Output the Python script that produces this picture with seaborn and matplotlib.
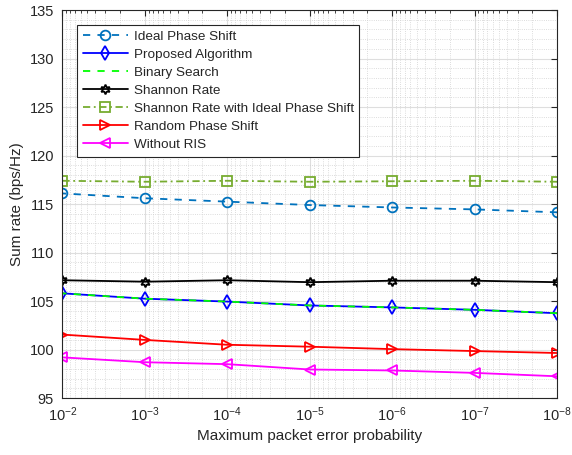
import numpy as np
import pandas as pd
import matplotlib
matplotlib.use('Agg')
import matplotlib.pyplot as plt
import seaborn as sns
from matplotlib.ticker import MultipleLocator, LogLocator, NullFormatter

sns.set_style('white')
plt.rcParams['font.family'] = ['Liberation Sans', 'DejaVu Sans']
plt.rcParams['mathtext.fontset'] = 'custom'
plt.rcParams['mathtext.rm'] = 'Liberation Sans'

# data
pe = [1e-2, 1e-3, 1e-4, 1e-5, 1e-6, 1e-7, 1e-8]
ideal_phase = [116.1, 115.6, 115.25, 114.9, 114.65, 114.45, 114.15]
proposed = [105.8, 105.25, 104.95, 104.55, 104.35, 104.1, 103.75]
binary_search = [105.8, 105.25, 104.95, 104.55, 104.35, 104.1, 103.75]
shannon = [107.15, 107.0, 107.15, 106.95, 107.1, 107.1, 106.95]
shannon_ideal = [117.4, 117.3, 117.4, 117.3, 117.35, 117.4, 117.3]
random_phase = [101.55, 101.0, 100.5, 100.3, 100.05, 99.85, 99.65]
without_ris = [99.2, 98.7, 98.5, 97.95, 97.85, 97.6, 97.25]

series = [
    ('Ideal Phase Shift', ideal_phase, '#0072BD', (0, (4, 4)), 'o'),
    ('Proposed Algorithm', proposed, '#0000FF', '-', 'd'),
    ('Binary Search', binary_search, '#00FF00', (0, (4, 4)), None),
    ('Shannon Rate', shannon, '#000000', '-', (6, 1, 0)),
    ('Shannon Rate with Ideal Phase Shift', shannon_ideal, '#77AC30', (0, (4, 2, 1, 2)), 's'),
    ('Random Phase Shift', random_phase, '#FF0000', '-', '>'),
    ('Without RIS', without_ris, '#FF00FF', '-', '<'),
]

fig, ax = plt.subplots(figsize=(5.72, 4.55), dpi=100)
fig.subplots_adjust(left=0.109, right=0.974, top=0.978, bottom=0.125)

for name, vals, color, ls, mk in series:
    df = pd.DataFrame({'pe': pe, 'rate': vals})
    kw = dict(marker=mk, markersize=7, markerfacecolor='none',
              markeredgecolor=color, markeredgewidth=1.3) if mk is not None else {}
    sns.lineplot(data=df, x='pe', y='rate', ax=ax, color=color, linestyle=ls,
                 linewidth=1.3, label=name, **kw)

ax.set_xscale('log')
ax.set_xlim(1e-2, 1e-8)
ax.set_ylim(95, 135)
ax.yaxis.set_major_locator(MultipleLocator(5))
ax.yaxis.set_minor_locator(MultipleLocator(1))
ax.xaxis.set_major_locator(LogLocator(base=10, numticks=10))
ax.xaxis.set_minor_locator(LogLocator(base=10, subs=np.arange(2, 10), numticks=20))
ax.xaxis.set_minor_formatter(NullFormatter())

ax.grid(which='major', color='#DEDEDE', linewidth=0.8)
ax.grid(which='minor', color='#D0D0D0', linestyle=':', linewidth=0.6)
ax.tick_params(which='both', direction='in', top=True, right=True, labelsize=10.5, colors='#262626')
ax.tick_params(which='major', length=4)
ax.tick_params(which='minor', length=2)
ax.tick_params(axis='y', which='minor', length=0)
ax.tick_params(axis='y', pad=6)
ax.tick_params(axis='x', pad=5)
for s in ax.spines.values():
    s.set_color('#262626')
    s.set_linewidth(0.8)

ax.set_xlabel('Maximum packet error probability', fontsize=11, color='#262626')
ax.set_ylabel('Sum rate (bps/Hz)', fontsize=11, color='#262626')

leg = ax.legend(loc='upper left', fontsize=9.7, frameon=True, fancybox=False,
                edgecolor='#262626', framealpha=1, handlelength=3.4,
                handletextpad=0.4, borderpad=0.4, borderaxespad=1.1,
                labelspacing=0.42)
leg.get_frame().set_linewidth(0.8)

fig.savefig('out.png', dpi=100)
